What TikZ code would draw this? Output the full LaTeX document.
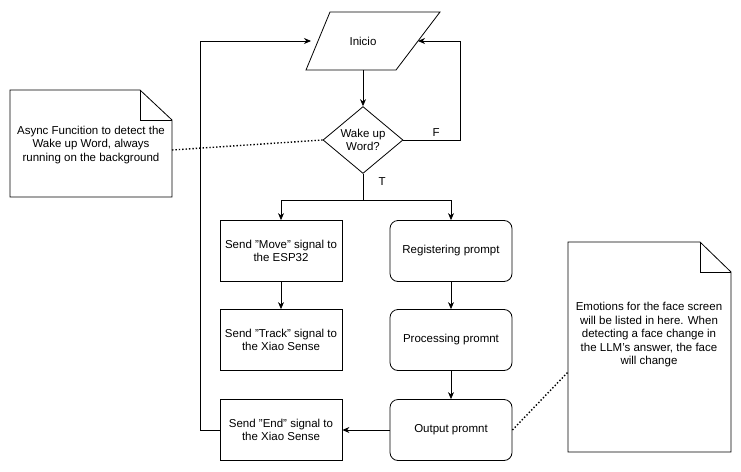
\documentclass[tikz,border=0pt]{standalone}
\usepackage{fontspec}
\setmainfont{Liberation Sans}
\usetikzlibrary{shapes.geometric,arrows.meta}

\tikzset{
  every node/.style={font=\fontsize{11.5}{13.5}\selectfont},
  sqbox/.style={draw,minimum width=122pt,minimum height=61pt,align=center},
  rdbox/.style={draw,rounded corners=8pt,minimum width=122pt,minimum height=61pt,align=center},
  flow/.style={-{Stealth[length=7pt,width=6pt]}},
}

\begin{document}
\begin{tikzpicture}[x=1pt,y=-1pt,line width=0.8pt]
    \useasboundingbox (0,0) rectangle (741,471);
    \begin{scope}
        \node[minimum width=100pt,minimum height=58pt] (inicio) at (363,41) {Inicio};
        \draw (330,12) -- (440,12) -- (396,70) -- (306,70) -- cycle;
        \node[draw,diamond,aspect=1,minimum width=80pt,inner sep=0pt,align=center] (wake) at (363,140) {Wake up\\Word?};
        \node[sqbox] (move) at (281,251) {Send "Move" signal to\\the ESP32};
        \node[sqbox] (track) at (281,340) {Send "Track" signal to\\the Xiao Sense};
        \node[sqbox] (send end) at (281,430) {Send "End" signal to\\the Xiao Sense};
        \node[rdbox] (reg) at (451,251) {Registering prompt};
        \node[rdbox] (proc) at (451,340) {Processing promnt};
        \node[rdbox] (out) at (451,430) {Output promnt};
    \end{scope}
    % notes with folded corner
    \draw (10,90) -- (140,90) -- (172,120) -- (172,197) -- (10,197) -- cycle;
    \draw (140,90) -- (140,120) -- (172,120);
    \node[align=center] (note1) at (91,145) {Async Funcition to detect the\\Wake up Word, always\\running on the background};
    \draw (568,242) -- (700,242) -- (731,272) -- (731,452) -- (568,452) -- cycle;
    \draw (700,242) -- (700,272) -- (731,272);
    \node[align=center] (note2) at (649,335) {Emotions for the face screen\\will be listed in here. When\\detecting a face change in\\the LLM's answer, the face\\will change};
    \coordinate (n1) at (172,150);
    \coordinate (n2) at (568,372);
    % connectors
    \draw[flow] (inicio) -- (wake);
    \draw[flow] (wake.east) -- (460,140) node[pos=0.45,above right] {F} -- (460,41) -- (418,41);
    \draw (wake.south) -- (363,200) node[pos=0.3,right=12pt] {T};
    \draw[flow] (363,200) -| (move.north);
    \draw[flow] (363,200) -| (reg.north);
    \draw[flow] (move) -- (track);
    \draw[flow] (reg) -- (proc);
    \draw[flow] (proc) -- (out);
    \draw[flow] (out) -- (send end);
    \draw[flow] (send end.west) -- (200,430) -- (200,41) -- (311,41);
    \draw[dotted,line width=1.4pt] (n1) -- (wake.west);
    \draw[dotted,line width=1.4pt] (out.east) -- (n2);
\end{tikzpicture}
\end{document}
